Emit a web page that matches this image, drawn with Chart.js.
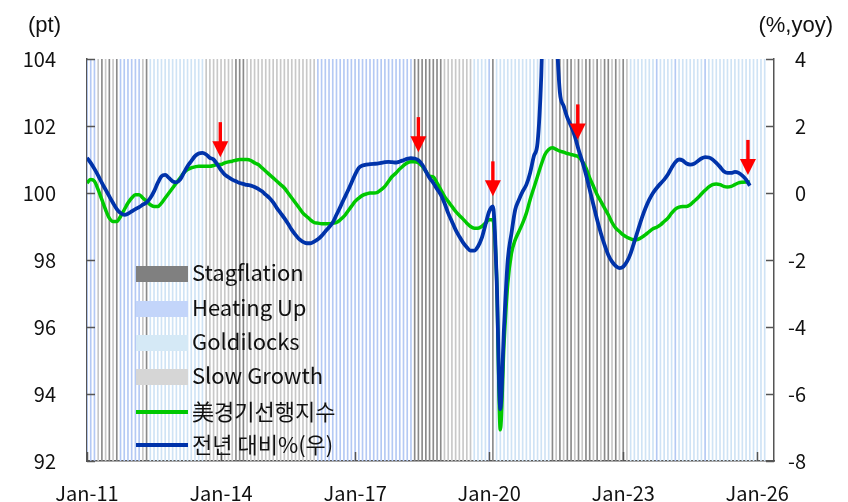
<!DOCTYPE html>
<html>
<head>
<meta charset="utf-8">
<script src="https://cdn.jsdelivr.net/npm/chart.js@4"></script>
<style>
  body { margin: 0; background: #fff; }
  #wrap { position: relative; width: 848px; height: 502px; font-family: "Noto Sans CJK KR", "Noto Sans", sans-serif; }
  .hdr { position: absolute; top: 12px; font: 22px "Liberation Sans Narrow", "Liberation Sans", sans-serif; color: #111; }
  .lg { position: absolute; left: 136px; width: 52px; }
  .lt { position: absolute; left: 192px; font-size: 22px; color: #111; line-height: 24px; white-space: nowrap; }
</style>
</head>
<body>
<div id="wrap">
  <canvas id="chart" width="848" height="502"></canvas>
  <div class="hdr" style="left:28px">(pt)</div>
  <div class="hdr" style="right:15px">(%,yoy)</div>

  <div class="lg" style="top:266px;height:16px;background:#808080"></div>
  <div class="lt" style="top:259px">Stagflation</div>
  <div class="lg" style="top:301px;height:16px;background:#c3d5fa"></div>
  <div class="lt" style="top:294px">Heating Up</div>
  <div class="lg" style="top:335px;height:16px;background:#d5e9f6"></div>
  <div class="lt" style="top:328px">Goldilocks</div>
  <div class="lg" style="top:369px;height:16px;background:#d6d6d6"></div>
  <div class="lt" style="top:362px">Slow Growth</div>
  <div class="lg" style="top:410px;height:4px;background:#00c800"></div>
  <div class="lt" style="top:398px">美경기선행지수</div>
  <div class="lg" style="top:443px;height:4px;background:#0033aa"></div>
  <div class="lt" style="top:431px">전년 대비%(우)</div>
</div>
<script>
// months counted from Jan-11 (0)
const tickMonths = [0, 36, 72, 108, 144, 180];
const tickLabels = ['Jan-11', 'Jan-14', 'Jan-17', 'Jan-20', 'Jan-23', 'Jan-26'];

// US leading index (pt), Jan-11 .. Nov-25
const leadIndex = [
  100.3, 100.4, 100.35, 100.1, 99.8, 99.5, 99.25, 99.15, 99.15, 99.3, 99.5, 99.7,
  99.85, 99.95, 99.95, 99.85, 99.75, 99.65, 99.6, 99.6, 99.7, 99.85, 100.0, 100.15,
  100.3, 100.45, 100.6, 100.7, 100.75, 100.78, 100.8, 100.8, 100.8, 100.8, 100.82, 100.85,
  100.85, 100.9, 100.93, 100.95, 100.98, 101.0, 101.0, 101.0, 100.97, 100.9, 100.85, 100.75,
  100.65, 100.55, 100.45, 100.35, 100.25, 100.15, 100.0, 99.85, 99.7, 99.55, 99.4, 99.3,
  99.2, 99.12, 99.1, 99.08, 99.08, 99.08, 99.1, 99.12, 99.2, 99.3, 99.45, 99.6,
  99.75, 99.85, 99.93, 99.97, 100.0, 100.0, 100.02, 100.1, 100.2, 100.35, 100.5, 100.6,
  100.72, 100.82, 100.9, 100.93, 100.93, 100.9, 100.8, 100.65, 100.5, 100.48, 100.3, 100.1,
  99.9, 99.75, 99.6, 99.45, 99.33, 99.22, 99.1, 99.0, 98.95, 98.95, 99.0, 99.1,
  99.2, 99.2, 97.5, 92.93, 95.5, 97.3, 98.2, 98.6, 98.85, 99.1, 99.4, 99.8,
  100.15, 100.5, 100.85, 101.15, 101.3, 101.35, 101.3, 101.25, 101.22, 101.18, 101.15, 101.12,
  101.08, 100.95, 100.75, 100.45, 100.2, 99.95, 99.75, 99.55, 99.35, 99.12, 98.95, 98.85,
  98.75, 98.68, 98.63, 98.6, 98.62, 98.68, 98.76, 98.85, 98.93, 98.98, 99.05, 99.15,
  99.25, 99.4, 99.52, 99.58, 99.6, 99.6, 99.65, 99.75, 99.85, 99.97, 100.08, 100.18,
  100.25, 100.27, 100.25, 100.2, 100.18, 100.2, 100.25, 100.3, 100.32, 100.33, 100.33
];

// year-on-year % (right axis)
const yoyPct = [
  1.05, 0.9, 0.72, 0.52, 0.3, 0.1, -0.1, -0.3, -0.48, -0.6, -0.65, -0.62,
  -0.55, -0.48, -0.42, -0.35, -0.28, -0.15, 0.05, 0.3, 0.5, 0.54, 0.45, 0.35,
  0.32, 0.4, 0.6, 0.8, 0.95, 1.1, 1.18, 1.2, 1.15, 1.05, 1.0, 0.85,
  0.68, 0.55, 0.47, 0.4, 0.35, 0.3, 0.27, 0.24, 0.22, 0.18, 0.12, 0.05,
  -0.05, -0.15, -0.28, -0.45, -0.6, -0.75, -0.92, -1.1, -1.25, -1.38, -1.46, -1.5,
  -1.5, -1.45, -1.38, -1.28, -1.15, -1.02, -0.88, -0.65, -0.42, -0.18, 0.05, 0.3,
  0.55, 0.75, 0.82, 0.85, 0.86, 0.87, 0.88, 0.9, 0.92, 0.93, 0.92, 0.91,
  0.94, 0.98, 1.02, 1.04, 1.03, 0.98, 0.85, 0.65, 0.45, 0.3, 0.12, -0.05,
  -0.3, -0.6, -0.85, -1.1, -1.3, -1.48, -1.62, -1.72, -1.72, -1.6, -1.35, -0.95,
  -0.55, -0.4, -2.5, -6.45, -4.0, -2.0, -1.2, -0.5, -0.2, 0.05, 0.25, 0.6,
  1.1, 1.5, 3.5, 7.5, 9.5, 8.0, 5.0, 3.0, 2.6, 2.25, 2.0, 1.7,
  1.3, 0.95, 0.55, 0.1, -0.35, -0.8, -1.2, -1.55, -1.85, -2.05, -2.18, -2.24,
  -2.2, -2.05, -1.8, -1.45, -1.1, -0.75, -0.45, -0.2, 0.0, 0.15, 0.28, 0.4,
  0.55, 0.75, 0.92, 1.0, 0.97, 0.88, 0.85, 0.87, 0.95, 1.03, 1.07, 1.06,
  1.0, 0.9, 0.78, 0.65, 0.6, 0.6, 0.63, 0.6, 0.52, 0.4, 0.22
];

// monthly regime runs from Jan-11: S=Stagflation, H=Heating Up, G=Goldilocks, W=Slow Growth
const regimeRuns = [
  ['H', 3], ['W', 1], ['S', 1], ['W', 1], ['S', 1], ['W', 1], ['S', 1], ['H', 6], ['W', 1], ['S', 1],
  ['G', 15], ['W', 8], ['S', 3], ['W', 19], ['H', 26], ['S', 8], ['W', 8], ['G', 4], ['H', 1], ['S', 1],
  ['G', 15],
  ['S', 1], ['W', 1], ['S', 1], ['W', 1], ['S', 2], ['W', 1], ['S', 1], ['W', 1], ['S', 2], ['W', 1],
  ['S', 1], ['W', 1], ['S', 2], ['W', 1], ['S', 1], ['W', 1], ['S', 1], ['W', 1],
  ['G', 7], ['H', 1], ['G', 4], ['H', 1], ['G', 7], ['H', 1], ['G', 16]
];

// red markers: month position and left-axis value at the arrow tip
const arrowMonths = [35.8, 89, 109, 131.8, 177.5];
const arrowTips = [101.07, 101.22, 99.9, 101.6, 100.54];

const regimeColors = { S: '#8a8a8a', H: '#b4c9f4', G: '#cfe3f5', W: '#c8c8c8' };
const axisColor = '#555';
const tickFont = { family: '"Noto Sans CJK KR", "Noto Sans", sans-serif', size: 20 };

const regimes = [];
regimeRuns.forEach(([c, n]) => { for (let i = 0; i < n; i++) regimes.push(c); });

function bandSet(code) {
  const pts = [];
  regimes.forEach((r, i) => { if (r === code) pts.push({ x: i, y: 1 }); });
  return {
    type: 'bar',
    data: pts,
    yAxisID: 'band',
    backgroundColor: regimeColors[code],
    borderWidth: 0,
    barThickness: 1,
    grouped: false,
    order: 10
  };
}

const arrowPlugin = {
  id: 'arrows',
  afterDatasetsDraw(chart) {
    const { ctx, scales } = chart;
    ctx.save();
    ctx.fillStyle = '#ff0000';
    arrowMonths.forEach((m, i) => {
      const px = scales.x.getPixelForValue(m);
      const py = scales.y.getPixelForValue(arrowTips[i]);
      ctx.fillRect(px - 1.7, py - 35, 3.4, 21);
      ctx.beginPath();
      ctx.moveTo(px - 8, py - 16);
      ctx.lineTo(px + 8, py - 16);
      ctx.lineTo(px, py);
      ctx.closePath();
      ctx.fill();
    });
    ctx.restore();
  }
};

const innerTicks = {
  id: 'innerTicks',
  afterDraw(chart) {
    const { ctx, chartArea: a, scales } = chart;
    ctx.save();
    ctx.strokeStyle = axisColor;
    ctx.lineWidth = 1.5;
    ctx.beginPath();
    scales.y.ticks.forEach(t => {
      const py = Math.round(scales.y.getPixelForValue(t.value)) + 0.5;
      ctx.moveTo(a.left, py); ctx.lineTo(a.left + 8, py);
    });
    scales.y2.ticks.forEach(t => {
      const py = Math.round(scales.y2.getPixelForValue(t.value)) + 0.5;
      ctx.moveTo(a.right, py); ctx.lineTo(a.right - 8, py);
    });
    tickMonths.forEach(m => {
      const px = Math.round(scales.x.getPixelForValue(m)) + 0.5;
      ctx.moveTo(px, a.bottom); ctx.lineTo(px, a.bottom - 9);
    });
    ctx.stroke();
    ctx.restore();
  }
};

new Chart(document.getElementById('chart'), {
  type: 'line',
  data: {
    datasets: [
      {
        label: '전년 대비%(우)',
        data: yoyPct.map((v, i) => ({ x: i, y: v })),
        yAxisID: 'y2',
        borderColor: '#0033aa',
        borderWidth: 3.8,
        pointRadius: 0,
        cubicInterpolationMode: 'monotone',
        order: 1
      },
      {
        label: '美경기선행지수',
        data: leadIndex.map((v, i) => ({ x: i, y: v })),
        yAxisID: 'y',
        borderColor: '#00c800',
        borderWidth: 3.5,
        pointRadius: 0,
        cubicInterpolationMode: 'monotone',
        order: 2
      },
      bandSet('S'),
      bandSet('H'),
      bandSet('G'),
      bandSet('W')
    ]
  },
  options: {
    responsive: false,
    animation: false,
    devicePixelRatio: 1,
    layout: { padding: { left: 0, top: 59, right: 42, bottom: 0 } },
    plugins: { legend: { display: false }, tooltip: { enabled: false } },
    scales: {
      x: {
        type: 'linear',
        min: 0,
        max: 184.5,
        offset: false,
        afterBuildTicks: s => { s.ticks = tickMonths.map(v => ({ value: v })); },
        afterFit: s => { s.height = 41; },
        ticks: {
          callback: v => tickLabels[tickMonths.indexOf(v)],
          font: tickFont,
          color: '#111',
          padding: 12,
          maxRotation: 0,
          autoSkip: false
        },
        grid: { display: false },
        border: { display: true, color: axisColor, width: 1.5 }
      },
      y: {
        position: 'left',
        min: 92,
        max: 104,
        afterFit: s => { s.width = 87; },
        ticks: { stepSize: 2, font: tickFont, color: '#111', padding: 23 },
        grid: { display: false },
        border: { display: true, color: axisColor, width: 1.5 }
      },
      y2: {
        position: 'right',
        min: -8,
        max: 4,
        afterFit: s => { s.width = 32; },
        ticks: { stepSize: 2, font: tickFont, color: '#111', padding: 10, crossAlign: 'far' },
        grid: { display: false },
        border: { display: true, color: axisColor, width: 1.5 }
      },
      band: { display: false, min: 0, max: 1 }
    }
  },
  plugins: [arrowPlugin, innerTicks]
});
</script>
</body>
</html>
